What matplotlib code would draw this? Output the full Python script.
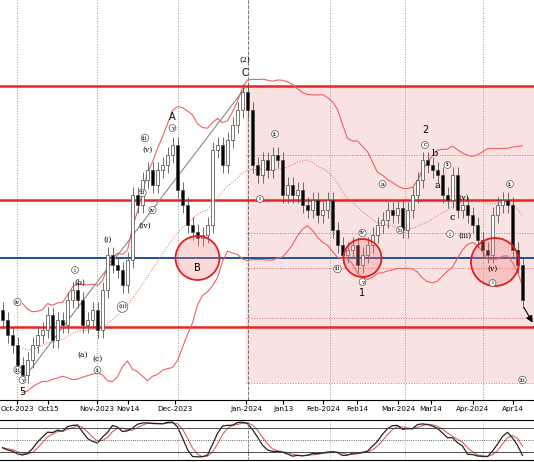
import numpy as np
import pandas as pd
import matplotlib
matplotlib.use("Agg")
import matplotlib.pyplot as plt
from matplotlib.patches import Ellipse, Rectangle

# daily closes (one bar per slot)
closes = [80, 65, 55, 35, 25, 40, 55, 65, 70, 85, 60, 80, 75, 100, 110, 100, 75, 80, 90, 70,
          110, 145, 135, 130, 115, 140, 205, 195, 220, 230, 215, 230, 235, 245, 255, 210, 195, 175, 168, 162,
          165, 175, 250, 255, 235, 260, 275, 290, 308, 290, 235, 225, 240, 230, 245, 240, 205, 215, 205, 210,
          195, 190, 200, 185, 190, 200, 170, 155, 145, 150, 155, 135, 145, 155, 165, 175, 180, 190, 185, 192,
          170, 190, 205, 220, 240, 235, 230, 225, 205, 200, 225, 190, 195, 185, 175, 160, 150, 145, 185, 195,
          200, 195, 150, 135, 100]
tick_pos = [2.9, 9.1, 18.9, 25.1, 34.5, 48.7, 56.1, 64.1, 70.9, 79.1, 85.7, 94.1, 102.1]
tick_labels = ["Oct-2023", "Oct15", "Nov-2023", "Nov14", "Dec-2023", "Jan-2024", "Jan13",
               "Feb-2024", "Feb14", "Mar-2024", "Mar14", "Apr-2024", "Apr14"]
month_pos = [2.9, 18.9, 35.0, 49.1, 65.5, 80.5, 96.0]
red_levels = [314, 200, 73]
blue_level = 142
dash_levels = [245, 167, 132, 82, 17]

# labels: (x index, price, text, circled)
labels = [(4, 20, "v", True), (4, 8, "5", False), (3, 98, "iv", True), (3, 30, "iii", True),
          (14.5, 130, "i", True), (16, 45, "(a)", False), (19, 41, "(c)", False), (19, 30, "ii", True),
          (15.5, 117, "(b)", False), (21, 160, "(i)", False), (24, 93, "(ii)", True),
          (28.5, 262, "iii", True), (29, 250, "(v)", False), (28, 207, "iii", True),
          (30, 190, "iv", True), (28.5, 174, "(iv)", False), (34, 272, "v", True),
          (34, 283, "A", False), (39, 132, "B", False), (48.5, 327, "C", False),
          (48.5, 340, "(2)", False), (51.5, 201, "i", True), (54.5, 266, "ii", True),
          (76, 216, "a", True), (67, 131, "iii", True), (72, 167, "iv", True), (72, 118, "v", True),
          (72, 107, "1", False), (79.5, 170, "b", True), (84.5, 255, "c", True), (84.5, 270, "2", False),
          (86.5, 247, "b", False), (87, 215, "a", False), (89, 235, "ii", True), (92, 202, "(iv)", False),
          (90, 183, "c", False), (89.5, 166, "i", True), (92.5, 164, "(iii)", False),
          (101.5, 216, "ii", True), (98, 131, "(v)", False), (98, 117, "i", True), (104, 20, "iii", True)]

df = pd.DataFrame({"close": closes})
df["open"] = df["close"].shift(1).fillna(df["close"].iloc[0] + 10)
df["high"] = df[["open", "close"]].max(axis=1) + 8
df["low"] = df[["open", "close"]].min(axis=1) - 8
mid = df["close"].rolling(20, min_periods=5).mean()
sd = df["close"].rolling(20, min_periods=5).std()
lo14 = df["low"].rolling(10, min_periods=1).min()
hi14 = df["high"].rolling(10, min_periods=1).max()
k = ((df["close"] - lo14) / (hi14 - lo14) * 100).rolling(3, min_periods=1).mean()
d = k.rolling(3, min_periods=1).mean()

fig = plt.figure(figsize=(5.34, 4.62), dpi=100)
ax = fig.add_axes([0, 62 / 462, 1, 400 / 462])
osc = fig.add_axes([0, 2 / 462, 1, 40 / 462])
n = len(closes)
xmin, xmax = -0.5, 106.3
ax.set_xlim(xmin, xmax)
ax.set_ylim(0, 400)

ax.add_patch(Rectangle((48.7, 17), xmax - 48.7, 297, color="#f4c6c6", alpha=0.5, lw=0, zorder=0))
for m in month_pos:
    ax.axvline(m, color="#999999", ls=":", lw=0.7, zorder=1)
ax.axvline(49.1, color="#777777", ls="--", lw=0.7, zorder=1)
for lv in dash_levels:
    ax.plot([48.7, xmax], [lv, lv], color="#e07070", ls=":", lw=0.7, zorder=1)
for lv in red_levels:
    ax.axhline(lv, color="#ee2222", lw=1.8, zorder=2)
ax.axhline(blue_level, color="#1f4e9a", lw=1.4, zorder=2)

x = np.arange(n)
ax.plot(x, mid + 2 * sd, color="#f06060", lw=0.8, zorder=2)
ax.plot(x, mid - 2 * sd, color="#f06060", lw=0.8, zorder=2)
ax.plot(x, mid, color="#f06060", lw=0.7, ls=":", zorder=2)
ax.plot([4, 48.5], [20, 312], color="#888888", lw=0.8, zorder=2)

for i, r in df.iterrows():
    up = r["close"] >= r["open"]
    ax.vlines(i, r["low"], r["high"], color="#555555", lw=0.6, zorder=3)
    b0 = min(r["open"], r["close"])
    h = max(abs(r["close"] - r["open"]), 1.5)
    ax.add_patch(Rectangle((i - 0.28, b0), 0.56, h, facecolor="white" if up else "black",
                           edgecolor="#444444", lw=0.5, zorder=4))

# circles: (x index, price, radius in px)
for cx, cy, rp in [(39, 142, 22), (72, 142, 19), (98.5, 138, 24)]:
    ax.add_patch(Ellipse((cx, cy), 2 * rp / 5, 2 * rp, facecolor=(0.95, 0.5, 0.5, 0.3),
                         edgecolor="#e02020", lw=1.3, zorder=5))
ax.annotate("", xy=(106.3, 75), xytext=(104, 95),
            arrowprops=dict(arrowstyle="-|>", color="black", lw=0.8))

for lx, ly, t, circ in labels:
    if circ:
        ax.text(lx, ly, t, ha="center", va="center", fontsize=4.5, family="serif", zorder=6,
                bbox=dict(boxstyle="circle,pad=0.15", fc="white", ec="#555555", lw=0.5))
    else:
        ax.text(lx, ly, t, ha="center", va="center", fontsize=7 if len(t) < 3 and t[0].isalnum() else 5.5,
                family="serif" if t.startswith("(") or t.islower() else "DejaVu Sans", zorder=6)

ax.set_xticks(tick_pos)
ax.set_xticklabels(tick_labels, fontsize=5.2)
ax.tick_params(axis="x", length=3, pad=1, direction="out")
ax.set_yticks([])
for s in ["top", "right", "left"]:
    ax.spines[s].set_visible(False)

osc.set_xlim(xmin, xmax)
osc.set_ylim(0, 100)
osc.plot(x, d, color="#e06060", lw=0.8)
osc.plot(x, k, color="#222222", lw=0.9)
osc.axhline(80, color="#333333", lw=0.6)
osc.axhline(20, color="#333333", lw=0.6)
osc.axhline(50, color="#333333", lw=0.6, ls=":")
for m in month_pos:
    osc.axvline(m, color="#999999", ls=":", lw=0.6)
osc.axvline(49.1, color="#777777", ls="--", lw=0.6)
osc.set_xticks([])
osc.set_yticks([])
for s in ["right", "left"]:
    osc.spines[s].set_visible(False)

fig.savefig("out.png", dpi=100)
